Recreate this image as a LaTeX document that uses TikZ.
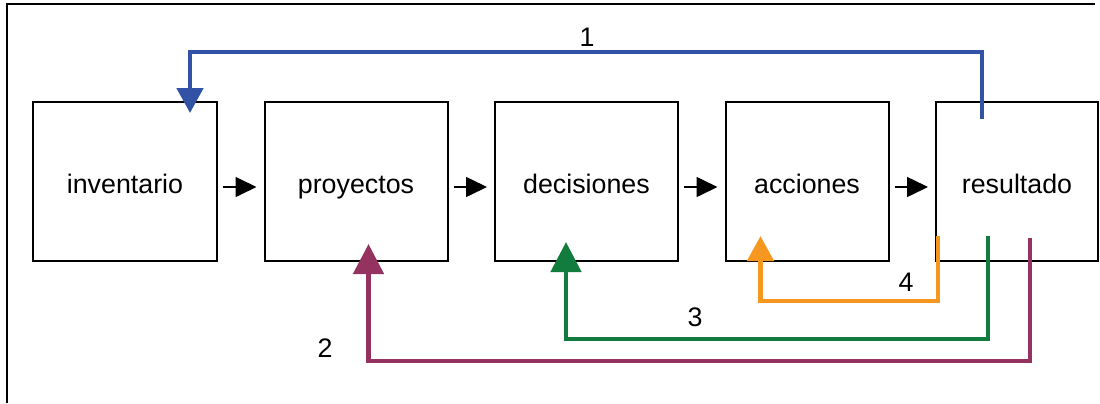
\documentclass[tikz,border=0pt]{standalone}
\usepackage{fontspec}
\setmainfont{Liberation Sans}
\usepackage{xcolor}
\usepackage{tikz}
\usetikzlibrary{arrows.meta,positioning,calc}

\definecolor{loopblue}{RGB}{50,82,165}
\definecolor{loopgreen}{RGB}{18,124,62}
\definecolor{looporange}{RGB}{246,152,32}
\definecolor{looppurple}{RGB}{148,50,96}

\begin{document}
\begin{tikzpicture}[
  x=0.5pt, y=-0.5pt,
  node distance=23.75pt,
  block/.style={rectangle, draw=black, line width=1pt, inner sep=0pt, outer sep=0pt, minimum height=79.5pt, text height=11.5pt, text depth=0pt, font=\fontsize{13.4}{16}\selectfont},
  flow/.style={-{Triangle[length=10.5pt,width=10pt]}, line width=0.8pt, black, shorten <=3pt, shorten >=4pt},
  feedback/.style={line width=2.4pt},
  tipsmall/.style={-{Triangle[length=12.5pt,width=13pt]}},
  tipbig/.style={-{Triangle[length=15pt,width=15pt]}},
  num/.style={font=\fontsize{13.4}{16}\selectfont, inner sep=0pt}
]
\useasboundingbox (0,0) rectangle (1100,403);

% frame
\draw[line width=1pt] (7,403) -- (7,4) -- (1095,4);

% stages
\node[block, minimum width=92pt] (inv) at (125,181.5) {inventario};
\node[block, minimum width=91.5pt, right=of inv] (proy) {proyectos};
\node[block, minimum width=91.5pt, right=of proy] (dec) {decisiones};
\node[block, minimum width=81.5pt, right=of dec] (acc) {acciones};
\node[block, minimum width=81pt, right=of acc] (res) {resultado};

\draw[flow] ([shift={(0,5.5)}]inv.east) -- ([shift={(0,5.5)}]proy.west);
\draw[flow] ([shift={(0,5.5)}]proy.east) -- ([shift={(0,5.5)}]dec.west);
\draw[flow] ([shift={(0,5.5)}]dec.east) -- ([shift={(0,5.5)}]acc.west);
\draw[flow] ([shift={(0,5.5)}]acc.east) -- ([shift={(0,5.5)}]res.west);

% feedback loops
\draw[feedback, loopblue, tipsmall] ([shift={(-35,17)}]res.north) -- ++(0,-67) -| ([shift={(65,11)}]inv.north);
\draw[feedback, looppurple, tipbig] ([shift={(13,-23)}]res.south) -- ++(0,123) -| ([shift={(104,-17)}]proy.south west);
\draw[feedback, loopgreen, tipbig] ([shift={(-29,-25)}]res.south) -- ++(0,103) -| ([shift={(71,-19)}]dec.south west);
\draw[feedback, looporange, tipsmall] ([shift={(2,-25)}]res.south west) -- ++(0,65) -| ([shift={(35,-25)}]acc.south west);

\node[num] (n1) at (587,37) {1};
\node[num] (n2) at (325,348) {2};
\node[num] (n3) at (695,317) {3};
\node[num] (n4) at (906,282) {4};

\end{tikzpicture}
\end{document}
